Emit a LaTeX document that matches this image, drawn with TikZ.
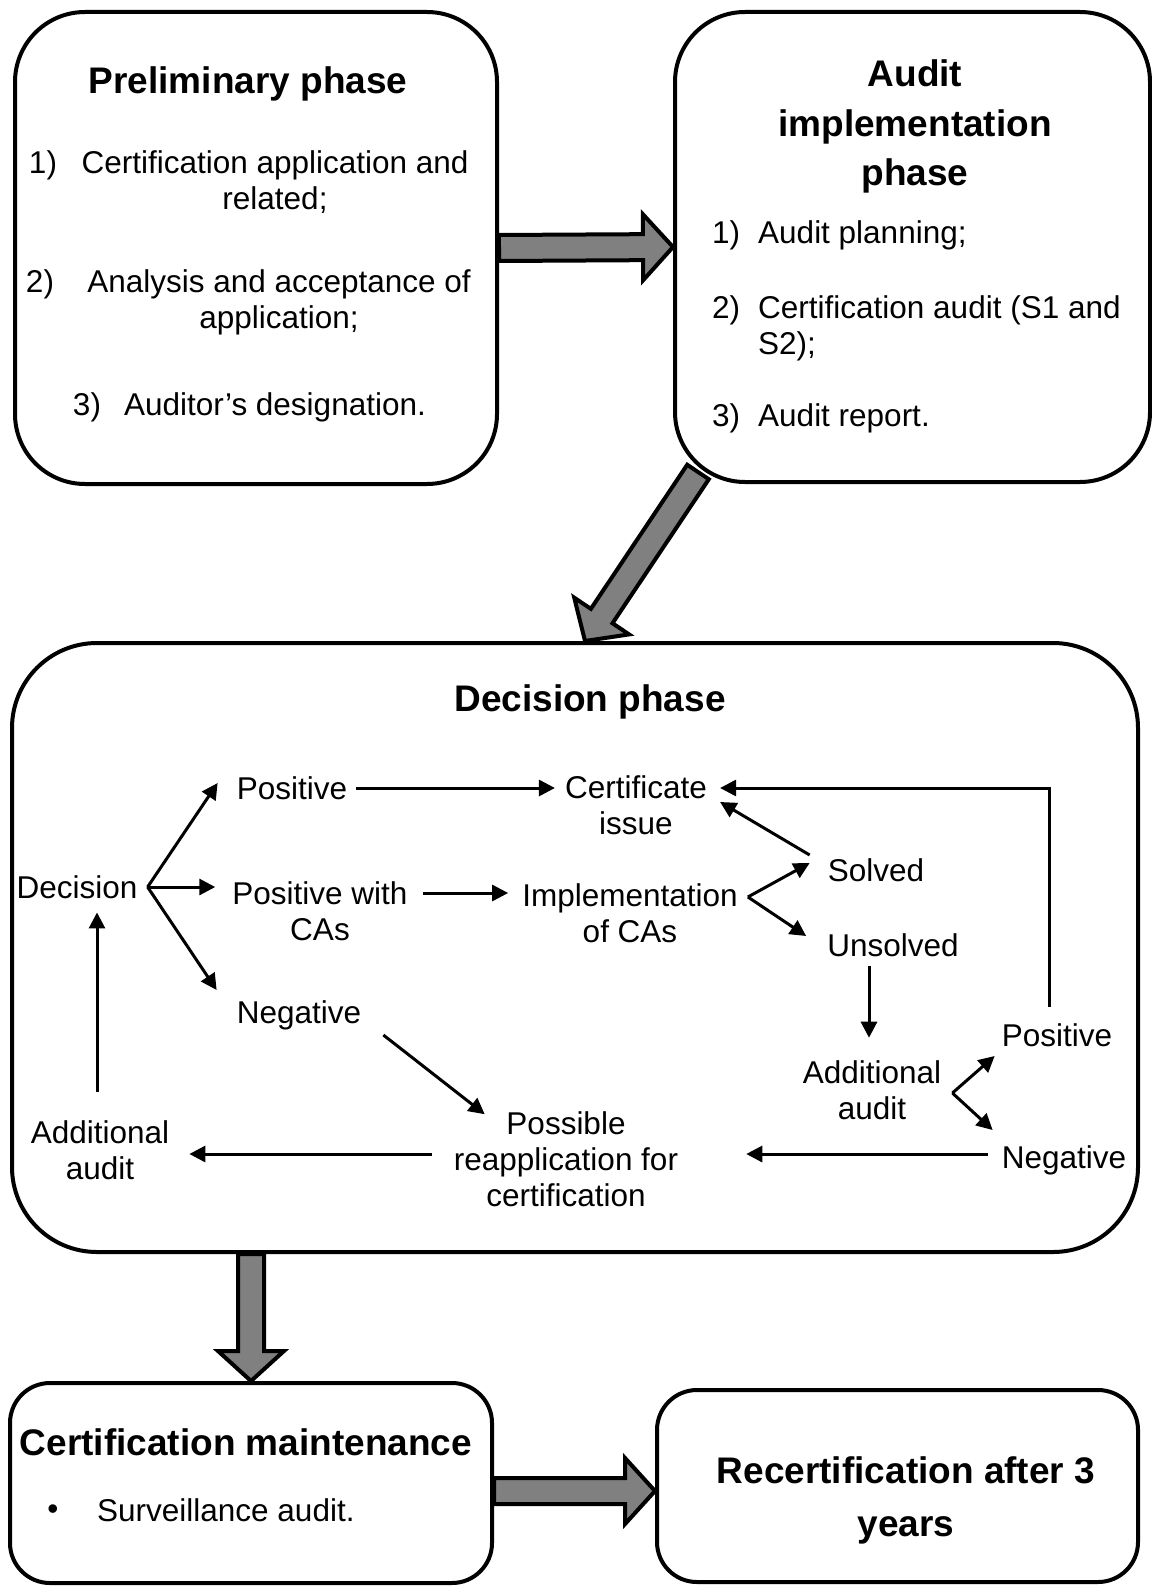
\documentclass[tikz,border=0pt]{standalone}
\usepackage{fontspec}
\setmainfont{Liberation Sans}
\usepackage{tikz}
\usetikzlibrary{arrows.meta,calc,backgrounds}

% block arrow between two points
\newcommand{\fatarrow}[2]{%
    \coordinate (fahead) at ($(#2)!30pt!(#1)$);
    \draw[fatarr] ($(#1)!13pt!90:(#2)$) -- ($(fahead)!13pt!90:(#2)$) -- ($(fahead)!33pt!90:(#2)$) -- (#2)
        -- ($(fahead)!33pt!-90:(#2)$) -- ($(fahead)!13pt!-90:(#2)$) -- ($(#1)!13pt!-90:(#2)$) -- cycle;
}

\begin{document}
\begin{tikzpicture}[x=1pt, y=-1pt,
    phasebox/.style={draw, line width=4pt, fill=white, inner sep=0pt},
    ttl/.style={font=\bfseries\fontsize{37}{49.5}\selectfont, align=center, inner sep=0pt},
    txt/.style={font=\fontsize{31.5}{36}\selectfont, align=center, inner sep=0pt},
    arr/.style={line width=3pt, -{Triangle[length=16pt,width=16pt]}},
    fatarr/.style={line width=4pt, fill=gray, line join=miter}]
    \useasboundingbox (0,0) rectangle (1151,1586);

    % Draw the phase boxes
    \node[phasebox, rounded corners=70pt, minimum width=482pt, minimum height=472pt] (prelim) at (256,248) {};
    \node[phasebox, rounded corners=70pt, minimum width=475pt, minimum height=470pt] (audit) at (912.5,247) {};
    \node[phasebox, rounded corners=85pt, minimum width=1126pt, minimum height=609pt] (decbox) at (575,947.5) {};
    \node[phasebox, rounded corners=40pt, minimum width=482pt, minimum height=200pt] (maint) at (251,1483) {};
    \node[phasebox, rounded corners=40pt, minimum width=481pt, minimum height=192pt] (recert) at (897.5,1486) {};

    % Block arrows between the phases
    \coordinate (diagfrom) at ($(audit.south west)+(25,-12)$);
    \coordinate (diagto) at ($(decbox.north)+(10,0)$);
    \coordinate (downfrom) at (decbox.south -| maint.north);
    \coordinate (botfrom) at ($(maint.east)+(0,8)$);
    \coordinate (botto) at (recert.west |- botfrom);
    \begin{scope}[on background layer]
        \fatarrow{prelim.east}{audit.west}
        \fatarrow{diagfrom}{diagto}
        \fatarrow{downfrom}{maint.north}
        \fatarrow{botfrom}{botto}
    \end{scope}

    % Preliminary phase
    \node[ttl] (prelimttl) at (248,83.5) {Preliminary phase};
    \node[txt] (p1num) at (43,165) {1)};
    \node[txt] (p1) at (275,182) {Certification application and\\related;};
    \node[txt] (p2num) at (40,284) {2)};
    \node[txt] (p2) at (279,302) {Analysis and acceptance of\\application;};
    \node[txt] (p3num) at (87,407) {3)};
    \node[txt] (p3) at (275,407) {Auditor’s designation.};

    % Audit implementation phase
    \node[ttl] (auditttl) at (915,126.5) {Audit\\implementation\\phase};
    \node[txt, anchor=west] (a1num) at (712,235) {1)};
    \node[txt, anchor=west] (a1) at (758,235) {Audit planning;};
    \node[txt, anchor=west] (a2num) at (712,310) {2)};
    \node[txt, anchor=west, align=left] (a2) at (758,328) {Certification audit (S1 and\\S2);};
    \node[txt, anchor=west] (a3num) at (712,418) {3)};
    \node[txt, anchor=west] (a3) at (758,418) {Audit report.};

    % Decision phase
    \node[ttl] (decttl) at (590,701.5) {Decision phase};
    \node[txt] (dec) at (77,887) {Decision};
    \node[txt] (pos) at (292,788) {Positive};
    \node[txt] (poswith) at (320,911.5) {Positive with\\CAs};
    \node[txt] (neg) at (299,1015) {Negative};
    \node[txt] (cert) at (636,805) {Certificate\\issue};
    \node[txt] (impl) at (630,913) {Implementation\\of CAs};
    \node[txt] (solved) at (876,870) {Solved};
    \node[txt] (unsolved) at (893,945) {Unsolved};
    \node[txt] (addaudit) at (872,1090.5) {Additional\\audit};
    \node[txt] (pos2) at (1057,1035) {Positive};
    \node[txt] (neg2) at (1064,1160) {Negative};
    \node[txt] (reapp) at (566,1159.5) {Possible\\reapplication for\\certification};
    \node[txt] (addaudit2) at (100,1150.5) {Additional\\audit};

    % Decision arrows
    \coordinate (decfork) at ($(dec.east)+(10,0)$);
    \draw[arr] (decfork) -- ($(pos.west)+(-19,-5)$);
    \draw[arr] (decfork) -- ($(poswith.west)+(-17,-24.5)$);
    \draw[arr] (decfork) -- ($(neg.west)+(-20,-25)$);
    \draw[arr] ($(pos.east)+(9,0)$) -- ($(cert.west)+(-10,-17)$);
    \draw[arr] ($(poswith.east)+(15,-18.5)$) -- ($(impl.west)+(-14,-20)$);
    \coordinate (implfork) at ($(impl.east)+(10,-16)$);
    \draw[arr] (implfork) -- ($(solved.west)+(-18,-7)$);
    \draw[arr] (implfork) -- ($(unsolved.west)+(-21,-9)$);
    \draw[arr] ($(solved.west)+(-18,-15)$) -- ($(cert.east)+(13,-3)$);
    \draw[arr] ($(unsolved.south)+(-24,9)$) -- ($(addaudit.north)+(-3,-23)$);
    \coordinate (addfork) at ($(addaudit.east)+(11,2.5)$);
    \draw[arr] (addfork) -- ($(pos2.west)+(-7,21)$);
    \draw[arr] (addfork) -- ($(neg2.west)+(-9,-30)$);
    \draw[arr] ($(pos2.north)+(-8,-16.7)$) |- ($(cert.east)+(13,-17)$);
    \draw[arr] ($(neg2.west)+(-14,-6)$) -- ($(reapp.east)+(68,-5.5)$);
    \draw[arr] ($(neg.east)+(22,20)$) -- ($(reapp.north west)+(31,2.5)$);
    \draw[arr] ($(reapp.west)+(-22,-5.5)$) -- ($(addaudit2.east)+(20,3.5)$);
    \draw[arr] ($(addaudit2.north)+(-3,-28.7)$) -- ($(dec.south)+(20,13.7)$);

    % Certification maintenance and recertification
    \node[ttl] (maintttl) at (246,1442) {Certification maintenance};
    \node[txt] (bullet) at (53,1512) {•};
    \node[txt, anchor=west] (surv) at (97,1510) {Surveillance audit.};
    \node[ttl, font=\bfseries\fontsize{37}{53}\selectfont] (recertttl) at (906,1500.5) {Recertification after 3\\years};
\end{tikzpicture}
\end{document}
